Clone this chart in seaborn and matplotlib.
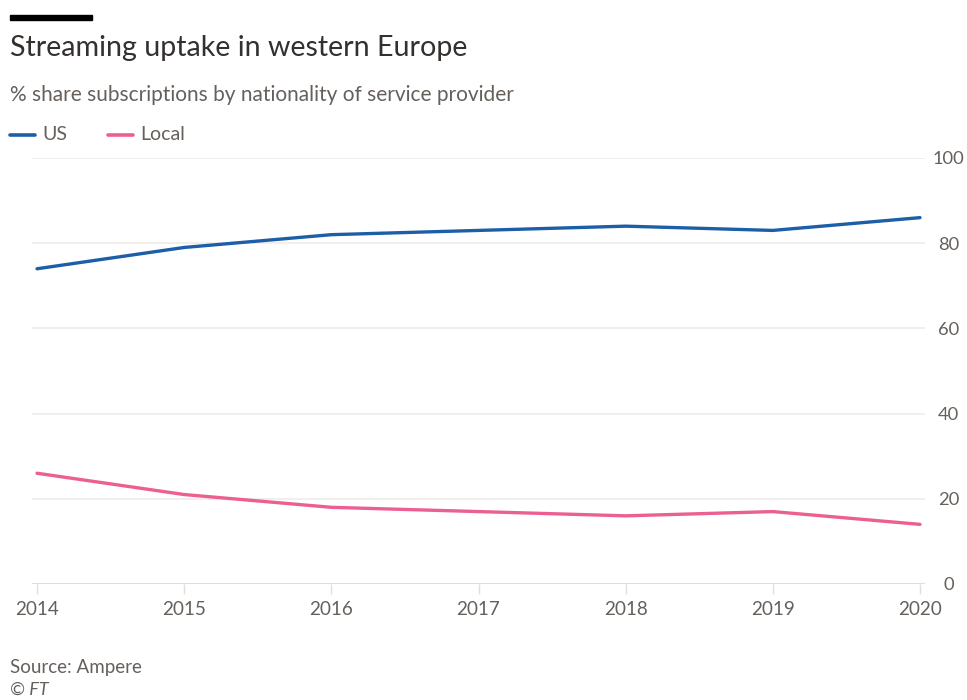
import matplotlib
matplotlib.use("Agg")
import matplotlib.pyplot as plt
import seaborn as sns
import pandas as pd

years = [2014, 2015, 2016, 2017, 2018, 2019, 2020]
us_share = [74, 79, 82, 83, 84, 83, 86]
local_share = [26, 21, 18, 17, 16, 17, 14]
series_names = ["US", "Local"]
y_ticks = [0, 20, 40, 60, 80, 100]

palette = {"US": "#1d5ea8", "Local": "#ec5f92"}
text_grey = "#66605c"

df = pd.DataFrame({
    "year": years * 2,
    "share": us_share + local_share,
    "provider": ["US"] * len(years) + ["Local"] * len(years),
})

sns.set_theme(style="white")
plt.rcParams["font.family"] = ["Lato", "DejaVu Sans"]

W, H = 967, 700
fig = plt.figure(figsize=(W / 100, H / 100), dpi=100)
fig.patch.set_facecolor("white")

# axes spans gridline extent; data runs from x=37 to x=918 px
left_px, right_px = 32, 925
bottom_px, top_px = 584, 158
ax = fig.add_axes([left_px / W, (H - bottom_px) / H,
                   (right_px - left_px) / W, (bottom_px - top_px) / H])
ax.set_facecolor("white")

sns.lineplot(data=df, x="year", y="share", hue="provider", hue_order=series_names,
             palette=palette, linewidth=2.4, ax=ax, legend=False, clip_on=False)

pad = 5 / ((918 - 37) / 6)
ax.set_xlim(years[0] - pad, years[-1] + pad)
ax.set_ylim(0, 100)

for s in ax.spines.values():
    s.set_visible(False)

for v in y_ticks:
    col = "#d9d3ce" if v == 0 else "#eeeae7"
    ax.axhline(v, color=col, linewidth=1.1, zorder=0)

ax.set_xticks(years)
ax.set_xticklabels([str(y) for y in years])
ax.tick_params(axis="x", length=7, width=1, color="#e3ded9", colors=text_grey,
               labelsize=13.6, pad=5, direction="out", bottom=True)
ax.tick_params(axis="x", labelcolor=text_grey)
ax.set_yticks(y_ticks)
ax.yaxis.tick_right()
ax.tick_params(axis="y", length=0, labelsize=13.2, pad=17, labelcolor=text_grey)
for lbl in ax.get_yticklabels():
    lbl.set_horizontalalignment("center")
    lbl.set_x(1.0)
ax.set_xlabel("")
ax.set_ylabel("")

# header
fig.patches.append(plt.Rectangle((10 / W, 1 - 20 / H), 82 / W, 5 / H,
                                 transform=fig.transFigure, color="black"))
fig.text(10 / W, 1 - 48 / H, "Streaming uptake in western Europe",
         fontsize=20.6, color="#33302e", va="center", ha="left")
fig.text(10 / W, 1 - 95 / H, "% share subscriptions by nationality of service provider",
         fontsize=15, color=text_grey, va="center", ha="left")

# legend
leg_y = 1 - 135 / H
for name, x0 in zip(series_names, [10, 108]):
    fig.add_artist(plt.Line2D([x0 / W, (x0 + 25) / W], [leg_y, leg_y],
                              color=palette[name], linewidth=2.6,
                              transform=fig.transFigure))
    fig.text((x0 + 32) / W, leg_y, name, fontsize=14, color=text_grey,
             va="center", ha="left")

# footer
fig.text(10 / W, 1 - 668 / H, "Source: Ampere", fontsize=13.5, color=text_grey,
         va="center", ha="left")
fig.text(10 / W, 1 - 690 / H, "© FT", fontsize=13, color=text_grey,
         va="center", ha="left", style="italic")

fig.savefig("out.png", dpi=100, facecolor="white")
